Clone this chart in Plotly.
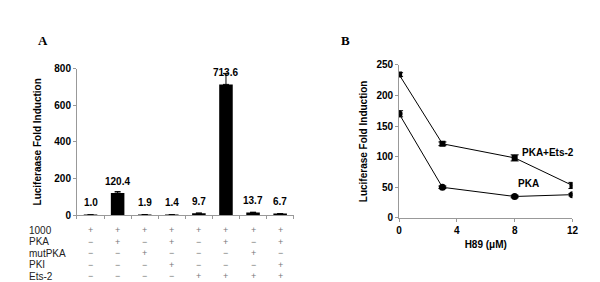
import plotly.graph_objects as go

# Panel A data
conditions = ["c1", "c2", "c3", "c4", "c5", "c6", "c7", "c8"]
fold_induction = [1.0, 120.4, 1.9, 1.4, 9.7, 713.6, 13.7, 6.7]
fold_error = [0.5, 8, 0.5, 0.5, 1.5, 60, 2, 1]
value_labels = ["1.0", "120.4", "1.9", "1.4", "9.7", "713.6", "13.7", "6.7"]
row_names = ["1000", "PKA", "mutPKA", "PKI", "Ets-2"]
row_1000 = ["+", "+", "+", "+", "+", "+", "+", "+"]
row_pka = ["−", "+", "−", "+", "−", "+", "−", "+"]
row_mutpka = ["−", "−", "+", "−", "−", "−", "+", "−"]
row_pki = ["−", "−", "−", "+", "−", "−", "−", "+"]
row_ets2 = ["−", "−", "−", "−", "+", "+", "+", "+"]

# Panel B data
h89 = [0, 3, 8, 12]
pka_ets2 = [234, 121, 98, 53]
pka_ets2_err = [3, 3, 5, 5]
pka = [170, 50, 35, 38]
pka_err = [5, 2, 2, 2]

FONT = "Liberation Sans, Arial, sans-serif"
AXC = "#999999"

fig = go.Figure()

fig.add_trace(go.Bar(
    x=conditions, y=fold_induction, width=0.5,
    marker=dict(color="black", line=dict(width=0)),
    error_y=dict(type="data", array=fold_error, arrayminus=[0]*8, symmetric=False,
                 color="black", thickness=1, width=3),
    xaxis="x", yaxis="y", showlegend=False))

fig.add_trace(go.Scatter(
    x=h89, y=pka_ets2, mode="lines+markers",
    line=dict(color="black", width=1),
    marker=dict(symbol="square", size=6, color="black"),
    error_y=dict(type="data", array=pka_ets2_err, color="black", thickness=1, width=4),
    xaxis="x2", yaxis="y2", showlegend=False))

fig.add_trace(go.Scatter(
    x=h89, y=pka, mode="lines+markers",
    line=dict(color="black", width=1),
    marker=dict(symbol="circle", size=7, color="black"),
    error_y=dict(type="data", array=pka_err, color="black", thickness=1, width=4),
    xaxis="x2", yaxis="y2", showlegend=False))

annotations = []
for c, v, t in zip(conditions, fold_induction, value_labels):
    annotations.append(dict(x=c, y=v, xref="x", yref="y", text="<b>%s</b>" % t,
                            showarrow=False, yshift=12, font=dict(size=10, family=FONT, color="black")))

rows = [row_1000, row_pka, row_mutpka, row_pki, row_ets2]
row_y = [226, 238, 250, 262, 274]
for name, vals, py in zip(row_names, rows, row_y):
    yp = 1 - py / 282
    annotations.append(dict(x=16 / 600, y=yp, xref="paper", yref="paper", text=name,
                            showarrow=False, xanchor="left", yanchor="middle",
                            font=dict(size=10, family=FONT, color="#222222")))
    for c, s in zip(conditions, vals):
        annotations.append(dict(x=c, y=yp, xref="x", yref="paper", text=s,
                                showarrow=False, yanchor="middle",
                                font=dict(size=9, family=FONT, color="#777777")))

annotations += [
    dict(x=25 / 600, y=1 - 18 / 282, xref="paper", yref="paper", text="<b>A</b>",
         showarrow=False, font=dict(size=13, family="Liberation Serif, Times New Roman, serif", color="black")),
    dict(x=340 / 600, y=1 - 18 / 282, xref="paper", yref="paper", text="<b>B</b>",
         showarrow=False, font=dict(size=13, family="Liberation Serif, Times New Roman, serif", color="black")),
    dict(x=8.4, y=106, xref="x2", yref="y2", text="<b>PKA+Ets-2</b>", showarrow=False,
         xanchor="left", font=dict(size=10, family=FONT, color="black")),
    dict(x=8.1, y=56, xref="x2", yref="y2", text="<b>PKA</b>", showarrow=False,
         xanchor="left", font=dict(size=10, family=FONT, color="black")),
]

tickfont = dict(size=10, family=FONT, color="black")
titlefont = dict(size=10, family=FONT, color="black")

fig.update_layout(
    width=600, height=282,
    margin=dict(l=0, r=0, t=0, b=0),
    paper_bgcolor="white", plot_bgcolor="white",
    font=dict(family=FONT),
    bargap=0.5,
    xaxis=dict(domain=[67 / 600, 287 / 600], showticklabels=False, showgrid=False,
               showline=True, linecolor=AXC, linewidth=1, ticks="outside", tickson="boundaries",
               ticklen=3, tickcolor=AXC, zeroline=False, anchor="y"),
    yaxis=dict(domain=[1 - 210 / 282, 1 - 57 / 282], range=[0, 800], tickvals=[0, 200, 400, 600, 800],
               ticktext=["<b>%d</b>" % v for v in [0, 200, 400, 600, 800]],
               showgrid=False, showline=True, linecolor=AXC, linewidth=1, ticks="outside",
               ticklen=3, tickcolor=AXC, zeroline=False, tickfont=tickfont,
               title=dict(text="<b>Luciferaase Fold Induction</b>", font=titlefont, standoff=10),
               anchor="x"),
    xaxis2=dict(domain=[394 / 600, 570 / 600], range=[0, 12], tickvals=[0, 4, 8, 12],
                ticktext=["<b>%d</b>" % v for v in [0, 4, 8, 12]],
                showgrid=False, showline=True, linecolor=AXC, linewidth=1, ticks="outside",
                ticklen=3, tickcolor=AXC, zeroline=False, tickfont=tickfont,
                title=dict(text="<b>H89 (μM)</b>", font=titlefont, standoff=6), anchor="y2"),
    yaxis2=dict(domain=[1 - 213 / 282, 1 - 53 / 282], range=[0, 250], tickvals=[0, 50, 100, 150, 200, 250],
                ticktext=["<b>%d</b>" % v for v in [0, 50, 100, 150, 200, 250]],
                showgrid=False, showline=True, linecolor=AXC, linewidth=1, ticks="outside",
                ticklen=3, tickcolor=AXC, zeroline=False, tickfont=tickfont,
                title=dict(text="<b>Luciferase Fold Induction</b>", font=titlefont, standoff=6),
                anchor="x2"),
    annotations=annotations,
)

fig.write_html("out.html")
